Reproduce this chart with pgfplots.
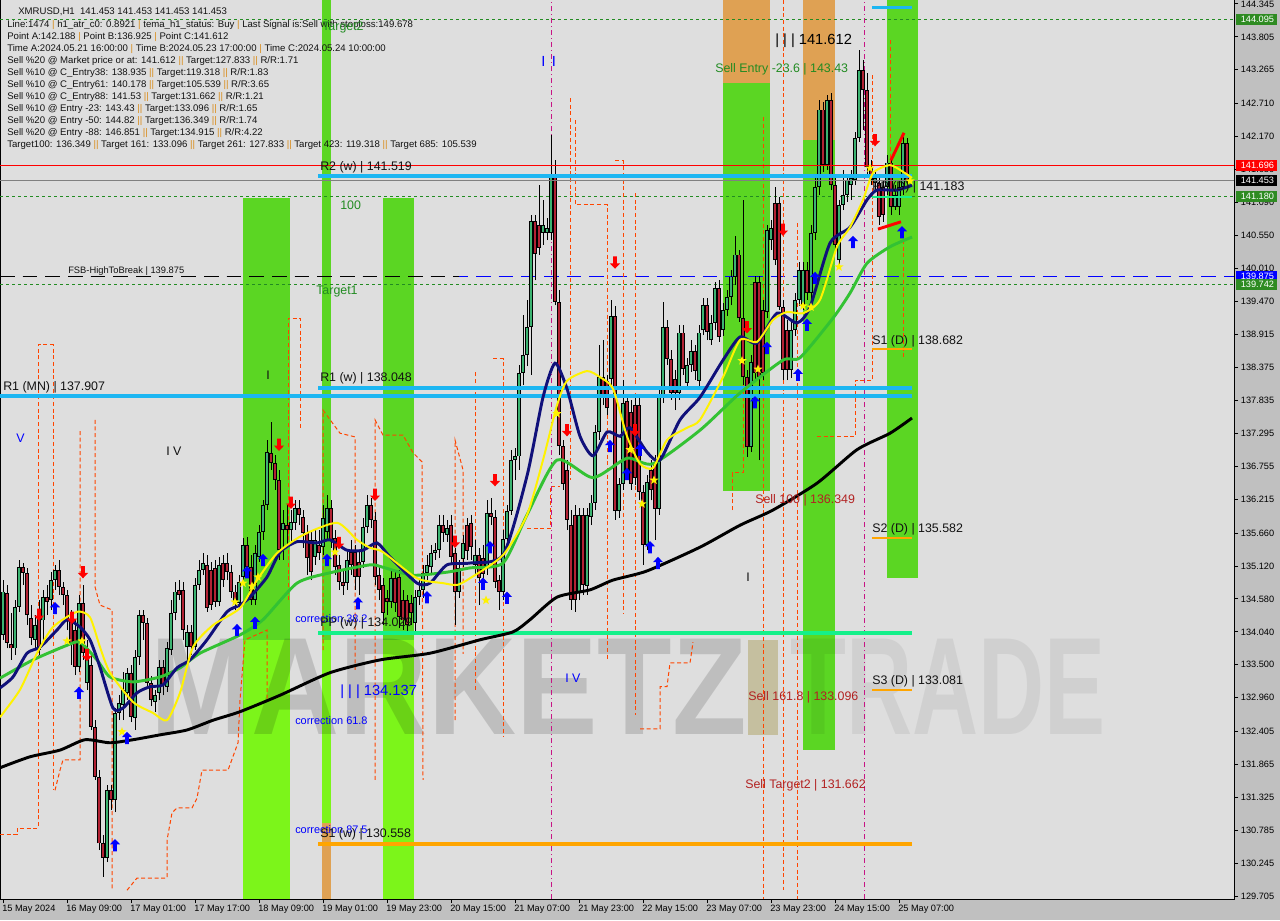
\documentclass[border=0pt]{standalone}
\usepackage{pgfplots}
\pgfplotsset{compat=1.18}
\usepackage{pgfplotstable}
\usepackage{fontspec}
\setmainfont{Liberation Sans}

\definecolor{plotbg}{HTML}{DEDEDE}
\definecolor{marginbg}{HTML}{C0C0C0}
\definecolor{bandg}{HTML}{5BD623}
\definecolor{bandl}{HTML}{7CF51A}
\definecolor{bando}{HTML}{DFA153}
\definecolor{bull}{HTML}{3CB371}
\definecolor{bear}{HTML}{B22234}
\definecolor{skyl}{HTML}{1CB6F2}
\definecolor{sprg}{HTML}{14F08A}
\definecolor{orl}{HTML}{FFA500}
\definecolor{ordash}{HTML}{FF4500}
\definecolor{magl}{HTML}{C71585}
\definecolor{maG}{HTML}{33C233}
\definecolor{maN}{HTML}{10107A}
\definecolor{txtg}{HTML}{228B22}
\definecolor{txtr}{HTML}{B22222}
\definecolor{boxg}{HTML}{2E8B22}
\definecolor{sepc}{HTML}{D98C1A}
\definecolor{infot}{HTML}{121212}
\definecolor{tanI}{HTML}{C5BF9F}

\newcommand\tk{\fontsize{6.9}{8}\selectfont}
\newcommand\lb{\fontsize{9.3}{11}\selectfont}
\newcommand\ssep{\textcolor{sepc}{||}}
\newcommand\sep{\textcolor{sepc}{|}}

\pgfdeclareplotmark{uarr}{%
 \pgfpathmoveto{\pgfqpoint{0pt}{4.6pt}}%
 \pgfpathlineto{\pgfqpoint{3.8pt}{0.6pt}}%
 \pgfpathlineto{\pgfqpoint{1.4pt}{0.6pt}}%
 \pgfpathlineto{\pgfqpoint{1.4pt}{-4.6pt}}%
 \pgfpathlineto{\pgfqpoint{-1.4pt}{-4.6pt}}%
 \pgfpathlineto{\pgfqpoint{-1.4pt}{0.6pt}}%
 \pgfpathlineto{\pgfqpoint{-3.8pt}{0.6pt}}%
 \pgfpathclose\pgfusepathqfill}
\pgfdeclareplotmark{darr}{%
 \pgfpathmoveto{\pgfqpoint{0pt}{-4.6pt}}%
 \pgfpathlineto{\pgfqpoint{3.8pt}{-0.6pt}}%
 \pgfpathlineto{\pgfqpoint{1.4pt}{-0.6pt}}%
 \pgfpathlineto{\pgfqpoint{1.4pt}{4.6pt}}%
 \pgfpathlineto{\pgfqpoint{-1.4pt}{4.6pt}}%
 \pgfpathlineto{\pgfqpoint{-1.4pt}{-0.6pt}}%
 \pgfpathlineto{\pgfqpoint{-3.8pt}{-0.6pt}}%
 \pgfpathclose\pgfusepathqfill}
\pgfdeclareplotmark{fstar}{%
 \pgfpathmoveto{\pgfpointpolar{90}{3.6pt}}%
 \pgfpathlineto{\pgfpointpolar{126}{1.5pt}}%
 \pgfpathlineto{\pgfpointpolar{162}{3.6pt}}%
 \pgfpathlineto{\pgfpointpolar{198}{1.5pt}}%
 \pgfpathlineto{\pgfpointpolar{234}{3.6pt}}%
 \pgfpathlineto{\pgfpointpolar{270}{1.5pt}}%
 \pgfpathlineto{\pgfpointpolar{306}{3.6pt}}%
 \pgfpathlineto{\pgfpointpolar{342}{1.5pt}}%
 \pgfpathlineto{\pgfpointpolar{18}{3.6pt}}%
 \pgfpathlineto{\pgfpointpolar{54}{1.5pt}}%
 \pgfpathclose\pgfusepathqfill}

% hourly candles, x = bar number
\pgfplotstableread{
x o h l c
0 133.99 134.89 133.91 134.70
1 134.68 134.81 133.77 133.86
2 133.84 134.35 133.58 133.77
3 133.77 134.56 133.66 134.45
4 134.45 135.22 134.37 135.10
5 135.10 135.17 134.81 135.01
6 135.01 135.09 134.15 134.32
7 134.27 134.48 133.82 133.94
8 133.91 134.32 133.74 134.15
9 134.40 134.56 133.66 133.74
10 134.23 134.73 133.91 134.61
11 134.61 134.81 134.32 134.53
12 134.56 135.02 134.40 134.89
13 134.89 135.14 134.73 135.06
14 135.06 135.22 134.65 134.78
15 134.78 134.86 134.48 134.65
16 134.65 134.73 134.07 134.23
17 134.23 134.40 133.50 133.86
18 134.07 134.23 133.33 133.46
19 133.46 134.65 133.38 134.51
20 134.51 134.81 133.58 133.69
21 133.20 133.91 133.09 133.69
22 133.50 133.66 132.43 132.48
23 132.48 132.59 131.61 131.66
24 131.66 131.77 130.46 130.57
25 130.57 130.71 130.02 130.33
26 130.33 131.53 130.26 131.44
27 131.44 131.53 131.12 131.28
28 131.28 132.79 131.08 132.71
29 132.71 133.00 132.59 132.87
30 132.84 133.38 132.59 133.09
31 133.04 133.45 132.92 133.36
32 133.36 133.50 132.56 132.64
33 132.63 133.74 132.43 133.63
34 133.63 134.40 133.50 134.32
35 134.32 134.40 133.91 134.19
36 134.19 134.27 133.12 133.20
37 133.20 133.32 132.82 132.92
38 132.89 133.09 132.73 133.00
39 133.04 133.58 132.92 133.46
40 133.46 133.58 133.00 133.17
41 133.14 133.87 133.06 133.77
42 133.74 134.56 133.66 134.35
43 134.35 134.86 134.23 134.70
44 134.73 134.89 134.56 134.65
45 134.73 134.86 133.91 134.07
46 133.79 134.15 133.58 134.04
47 134.04 134.15 133.66 133.79
48 133.79 134.92 133.74 134.81
49 134.81 135.22 134.73 135.06
50 135.06 135.33 134.97 135.17
51 135.14 135.30 134.37 134.43
52 135.06 135.19 134.40 134.48
53 135.09 135.22 134.45 134.53
54 134.53 135.27 134.46 135.14
55 135.17 135.30 134.78 134.89
56 135.17 135.33 134.89 135.02
57 135.02 135.14 134.60 134.70
58 134.70 134.81 134.40 134.51
59 134.51 134.97 134.43 134.86
60 134.94 135.58 134.84 135.47
61 135.47 135.60 135.02 135.10
62 135.10 135.30 134.48 134.56
63 134.56 135.47 134.48 135.33
64 135.27 135.79 135.19 135.68
65 135.68 136.20 135.55 136.12
66 136.12 137.19 136.04 136.99
67 136.97 137.49 136.70 136.81
68 136.81 136.94 136.37 136.53
69 136.53 136.70 135.22 135.38
70 135.71 136.04 135.22 135.83
71 135.79 136.12 135.47 135.71
72 135.71 136.04 135.47 135.84
73 135.83 136.20 135.71 136.07
74 136.07 136.20 135.79 135.96
75 135.93 136.04 135.42 135.66
76 135.66 135.79 134.97 135.25
77 135.55 135.71 134.89 135.02
78 135.27 135.71 135.14 135.55
79 135.47 135.71 135.22 135.33
80 135.43 136.12 135.30 135.91
81 135.68 136.29 135.55 136.07
82 136.07 136.20 135.42 135.55
83 135.58 135.71 134.97 135.10
84 135.14 135.30 134.73 134.86
85 134.86 135.06 134.65 134.79
86 134.84 135.38 134.73 135.22
87 135.35 135.55 134.97 135.14
88 135.35 135.47 134.73 134.94
89 135.19 135.38 134.65 134.94
90 135.19 135.91 135.09 135.76
91 135.76 136.29 135.66 136.12
92 136.12 136.24 135.74 135.88
93 135.88 136.01 134.81 134.94
94 134.97 135.14 134.56 134.73
95 134.81 134.92 134.15 134.35
96 134.60 134.73 134.32 134.53
97 134.53 135.06 134.43 134.92
98 134.92 135.02 134.37 134.51
99 134.94 135.06 134.10 134.28
100 134.56 134.73 134.07 134.23
101 134.56 134.65 133.99 134.15
102 134.51 134.65 134.15 134.35
103 134.19 134.73 133.99 134.61
104 134.61 134.89 134.48 134.73
105 134.73 135.14 134.60 135.01
106 135.01 135.30 134.89 135.14
107 135.10 135.47 134.97 135.33
108 135.33 135.50 135.22 135.38
109 135.38 135.96 135.25 135.79
110 135.79 135.96 135.52 135.66
111 135.63 135.88 135.52 135.74
112 135.79 135.96 135.17 135.27
113 135.33 135.42 134.15 134.70
114 134.70 135.22 134.60 135.09
115 135.24 135.63 135.10 135.50
116 135.79 135.91 135.22 135.37
117 135.83 135.96 135.22 135.43
118 135.14 135.55 134.97 135.30
119 135.30 135.42 134.48 134.92
120 135.25 135.47 134.81 134.99
121 135.10 136.20 134.97 135.99
122 135.99 136.24 135.79 135.93
123 135.93 136.04 134.76 134.86
124 134.89 134.97 134.40 134.70
125 134.70 135.71 134.56 135.56
126 135.56 136.12 135.47 136.02
127 136.02 137.03 135.96 136.86
128 136.86 137.06 136.53 136.92
129 136.92 138.42 136.70 138.29
130 138.29 139.24 138.09 138.58
131 138.58 139.49 138.40 139.04
132 139.04 140.88 138.26 140.78
133 140.78 140.88 139.81 140.24
134 140.72 141.37 140.23 140.34
135 140.59 141.13 140.39 140.72
136 140.59 140.83 140.47 140.67
137 140.59 142.19 140.47 141.51
138 141.51 141.78 139.40 139.45
139 139.45 139.65 136.94 137.09
140 137.09 137.19 136.37 136.47
141 136.70 136.86 135.71 135.88
142 135.79 136.04 134.40 134.56
143 135.96 136.12 134.37 134.56
144 134.70 136.07 134.56 135.96
145 135.96 136.07 134.65 134.81
146 134.79 136.07 134.65 135.96
147 135.93 136.29 135.79 136.16
148 136.16 137.44 136.04 137.32
149 137.32 138.75 137.19 138.22
150 138.22 138.83 137.76 137.89
151 138.16 138.26 137.60 137.71
152 138.19 139.49 138.09 139.22
153 139.22 139.39 135.88 136.02
154 136.02 136.57 135.91 136.47
155 136.47 138.17 136.37 137.80
156 137.83 137.93 136.57 136.66
157 137.65 137.85 136.37 136.47
158 137.76 137.93 136.45 136.57
159 137.76 137.93 136.20 136.34
160 136.34 136.45 135.14 135.47
161 135.47 136.61 135.38 136.50
162 136.70 136.86 136.20 136.37
163 136.80 136.94 135.55 136.06
164 136.06 138.01 135.96 137.89
165 137.89 139.45 137.80 139.04
166 139.04 139.16 138.42 138.52
167 138.52 138.67 137.85 137.96
168 138.19 138.34 137.68 137.96
169 137.96 139.08 137.85 138.95
170 138.95 139.08 138.26 138.35
171 138.13 138.54 138.01 138.42
172 138.42 138.83 138.31 138.65
173 138.65 138.75 138.17 138.32
174 138.16 139.08 138.04 138.95
175 138.99 139.52 138.91 139.40
176 139.40 139.52 138.83 138.96
177 138.83 139.24 138.75 139.11
178 139.11 139.78 138.99 139.68
179 139.68 139.81 138.80 138.88
180 138.99 139.44 138.90 139.32
181 139.32 139.65 139.22 139.54
182 139.54 139.98 139.40 139.87
183 139.87 140.54 139.73 140.23
184 140.23 140.31 139.13 139.19
185 139.19 141.13 138.09 138.22
186 138.22 138.34 136.91 137.07
187 137.07 138.58 136.99 138.47
188 139.78 139.88 138.17 138.29
189 139.78 139.88 136.86 138.22
190 139.32 139.49 138.17 138.29
191 139.29 140.72 139.19 140.63
192 140.47 140.80 140.31 140.67
193 141.08 141.34 140.06 140.14
194 141.08 141.18 139.32 139.37
195 139.37 139.49 138.17 138.34
196 138.99 139.16 138.17 138.34
197 138.34 139.13 138.21 138.99
198 138.99 139.60 138.90 139.49
199 139.49 140.11 139.39 139.98
200 139.40 140.11 139.32 139.98
201 139.98 140.11 139.49 139.60
202 139.60 140.72 139.49 140.59
203 140.59 141.49 140.47 141.34
204 141.34 142.77 141.21 142.61
205 142.61 142.74 141.59 141.70
206 141.70 142.85 141.62 142.77
207 142.77 142.88 141.29 141.37
208 141.37 141.49 140.31 140.39
209 140.14 141.13 140.06 141.05
210 141.05 141.62 140.96 141.21
211 141.21 141.54 141.10 141.46
212 141.37 141.62 141.13 141.49
213 141.46 142.24 141.37 142.15
214 142.15 143.59 142.08 143.26
215 143.26 143.43 142.28 142.93
216 142.93 143.21 141.54 141.67
217 141.67 141.78 141.37 141.46
218 141.41 141.62 141.29 141.49
219 141.41 141.49 140.72 140.85
220 141.34 141.46 140.77 140.88
221 141.34 141.87 141.21 141.74
222 141.74 141.82 140.88 141.01
223 141.01 141.37 140.96 141.21
224 141.01 141.46 140.88 141.34
225 141.34 142.19 141.21 142.06
226 142.06 142.15 141.37 141.453
}\candles

\pgfplotstableread{
x y
13 134.43
19 133.04
28 130.54
31 132.30
58.5 134.07
61 135.02
63 134.19
65 135.22
81 135.22
88.75 134.51
106 134.61
120 134.83
121.75 135.43
126 134.60
151.75 137.09
156 136.63
159.25 137.03
161.75 135.43
163.75 135.17
188 137.81
191 138.70
198.75 138.26
201 139.08
203 139.85
212.5 140.44
224.75 140.60
}\uparr

\pgfplotstableread{
x y
9 134.32
17.25 134.27
20 135.02
21 133.66
69 137.11
72 136.16
84 135.50
93 136.29
113 135.52
123 136.53
141 137.35
153 140.10
158 137.35
186 139.04
195 140.64
218 142.11
}\dnarr

\pgfplotstableread{
x y
16 133.89
19.75 133.89
29.75 132.40
58 134.53
60 134.84
62.25 134.79
63.75 134.94
83 135.35
120.75 134.56
138.5 137.62
156.75 137.03
159.75 136.14
162.75 136.53
184.75 138.49
188.75 138.35
200 139.39
202 139.37
209 140.03
216.75 141.65
226.75 141.44
}\stars

\begin{document}
\begin{tikzpicture}
\fill[marginbg] (0,0) rectangle (960pt,-690pt);
\begin{axis}[
    at={(0,0)}, anchor=north west,
    scale only axis, width=925.5pt, height=674.25pt,
    xmin=-0.75, xmax=307.75, ymin=129.656, ymax=144.41,
    axis background/.style={fill=plotbg},
    axis line style={black, line width=0.75pt},
    xtick pos=left, ytick pos=right, yticklabel pos=right,
    tick align=outside, major tick length=3pt,
    tick style={black, line width=0.75pt},
    ytick={144.345,143.805,143.265,142.710,142.170,141.630,141.090,140.550,140.010,139.470,138.915,138.375,137.835,137.295,136.755,136.215,135.660,135.120,134.580,134.040,133.500,132.960,132.405,131.865,131.325,130.785,130.245,129.705},
    yticklabels={144.345,143.805,143.265,142.710,142.170,141.630,141.090,140.550,140.010,139.470,138.915,138.375,137.835,137.295,136.755,136.215,135.660,135.120,134.580,134.040,133.500,132.960,132.405,131.865,131.325,130.785,130.245,129.705},
    xtick={0,16,...,224},
    xticklabels={15 May 2024,16 May 09:00,17 May 01:00,17 May 17:00,18 May 09:00,19 May 01:00,19 May 23:00,20 May 15:00,21 May 07:00,21 May 23:00,22 May 15:00,23 May 07:00,23 May 23:00,24 May 15:00,25 May 07:00},
    yticklabel style={font=\tk, anchor=west, inner sep=0pt, xshift=2pt},
    xticklabel style={font=\tk, anchor=north west, inner sep=0pt, xshift=-0.75pt, yshift=-1pt},
    clip mode=individual,
]
% signal zones
\fill[bandg] (axis cs:60,141.16) rectangle (axis cs:71.75,133.91);
\fill[bandl] (axis cs:60,133.91) rectangle (axis cs:71.75,129.656);
\fill[bandg] (axis cs:79.75,144.41) rectangle (axis cs:82,133.91);
\fill[bandl] (axis cs:79.75,133.91) rectangle (axis cs:82,130.90);
\fill[bando] (axis cs:79.75,130.90) rectangle (axis cs:82,129.656);
\fill[bandg] (axis cs:95,141.16) rectangle (axis cs:102.75,133.91);
\fill[bandl] (axis cs:95,133.91) rectangle (axis cs:102.75,129.656);
\fill[bando] (axis cs:180,144.41) rectangle (axis cs:191.75,143.05);
\fill[bandg] (axis cs:180,143.05) rectangle (axis cs:191.75,136.35);
\fill[bando] (axis cs:200,144.41) rectangle (axis cs:208,142.11);
\fill[bandg] (axis cs:200,142.11) rectangle (axis cs:208,132.10);
\fill[bandg] (axis cs:221,144.41) rectangle (axis cs:228.75,134.92);
% watermark
\fill[tanI] (axis cs:186.25,133.91) rectangle (axis cs:193.75,132.35);
\node[anchor=base west, inner sep=0pt, font=\fontsize{104}{104}\selectfont\bfseries, text=black, text opacity=0.14, xscale=0.88] at (axis cs:36.75,132.35) {MARKETZ};
\node[anchor=base west, inner sep=0pt, font=\fontsize{104}{104}\selectfont\bfseries, text=black, text opacity=0.06, xscale=0.66] at (axis cs:196.75,132.35) {TRADE};
% horizontal levels (thin)
\addplot[txtg, line width=0.75pt, dash pattern=on 2.25pt off 2.25pt] coordinates {(-0.75,144.095) (307.75,144.095)};
\addplot[txtg, line width=0.75pt, dash pattern=on 2.25pt off 2.25pt] coordinates {(-0.75,141.180) (307.75,141.180)};
\addplot[txtg, line width=0.75pt, dash pattern=on 2.25pt off 2.25pt] coordinates {(-0.75,139.742) (307.75,139.742)};
\addplot[blue, line width=0.75pt, dash pattern=on 11pt off 6pt] coordinates {(-0.75,139.875) (307.75,139.875)};
\addplot[black, line width=0.75pt, dash pattern=on 11pt off 6pt] coordinates {(-0.75,139.875) (114,139.875)};
% stop-level steps
\pgfplotsset{every axis plot/.append style={}}
\addplot[ordash, line width=0.75pt, dash pattern=on 3pt off 2pt] coordinates {(-0.75,130.71)(3.5,130.71)(3.5,130.82)(8.75,130.82)(8.75,138.75)(12.5,138.75)(12.5,131.44)};
\addplot[ordash, line width=0.75pt, dash pattern=on 3pt off 2pt] coordinates {(13,131.44)(14.25,131.77)(15,131.94)(19.25,131.94)(19.25,137.35)};
\addplot[ordash, line width=0.75pt, dash pattern=on 3pt off 2pt] coordinates {(23,137.52)(23,134.78)(24.25,134.48)(27.25,134.40)(27.25,129.80)};
\addplot[ordash, line width=0.75pt, dash pattern=on 3pt off 2pt] coordinates {(31,129.80)(33.5,130.0)(41,130.0)(41,130.62)(42.25,131.07)(43.5,131.15)(47.25,131.15)(48.5,131.31)(49.75,131.77)(56.25,131.77)(56.75,131.86)(58.75,132.22)(59.25,132.92)(60.5,133.91)(66,134.07)(66,132.92)};
\addplot[ordash, line width=0.75pt, dash pattern=on 3pt off 2pt] coordinates {(71.25,134.56)(71.25,139.19)(74.25,139.19)(74.25,137.35)};
\addplot[ordash, line width=0.75pt, dash pattern=on 3pt off 2pt] coordinates {(80,133.74)(80,137.68)(84.25,137.30)(88,137.24)(88,133.41)};
\addplot[ordash, line width=0.75pt, dash pattern=on 3pt off 2pt] coordinates {(93,131.61)(93,137.52)(95,137.27)(100,137.27)(102.5,136.98)(104.75,136.83)(105,131.61)};
\addplot[ordash, line width=0.75pt, dash pattern=on 3pt off 2pt] coordinates {(113,132.59)(113,137.19)(115,136.70)(115,133.68)};
\addplot[ordash, line width=0.75pt, dash pattern=on 3pt off 2pt] coordinates {(118,133.09)(118,138.32)};
\addplot[ordash, line width=0.75pt, dash pattern=on 3pt off 2pt] coordinates {(122.5,138.52)(125,138.52)(125,132.31)};
\addplot[ordash, line width=0.75pt, dash pattern=on 3pt off 2pt] coordinates {(131,135.73)(136.75,135.73)(136.75,136.43)(139.25,136.43)};
\addplot[ordash, line width=0.75pt, dash pattern=on 3pt off 2pt] coordinates {(141.75,142.80)(141.75,136.53)};
\addplot[ordash, line width=0.75pt, dash pattern=on 3pt off 2pt] coordinates {(143,142.44)(143,141.05)(151,141.05)(151,133.58)};
\addplot[ordash, line width=0.75pt, dash pattern=on 3pt off 2pt] coordinates {(153,141.77)(155,141.77)(155,134.33)};
\addplot[ordash, line width=0.75pt, dash pattern=on 3pt off 2pt] coordinates {(158,141.24)(158,132.68)};
\addplot[ordash, line width=0.75pt, dash pattern=on 3pt off 2pt] coordinates {(159.25,132.45)(164.25,132.45)(164.25,133.14)(166,133.14)(166.75,133.53)(171.75,133.53)(172.5,133.87)};
\addplot[ordash, line width=0.75pt, dash pattern=on 3pt off 2pt] coordinates {(182.25,136.04)(182.25,136.65)(185,136.65)(185,141.13)};
\addplot[ordash, line width=0.75pt, dash pattern=on 3pt off 2pt] coordinates {(190,142.49)(190,129.66)};
\addplot[ordash, line width=0.75pt, dash pattern=on 3pt off 2pt] coordinates {(195,144.41)(195,129.80)};
\addplot[ordash, line width=0.75pt, dash pattern=on 3pt off 2pt] coordinates {(198.5,140.75)(198.5,129.66)};
\addplot[ordash, line width=0.75pt, dash pattern=on 3pt off 2pt] coordinates {(203.5,137.24)(213,137.24)(213,138.17)(217.25,138.17)(217.25,143.21)};
\addplot[ordash, line width=0.75pt, dash pattern=on 3pt off 2pt] coordinates {(221.75,143.75)(221.75,141.08)};
\addplot[ordash, line width=0.75pt, dash pattern=on 3pt off 2pt] coordinates {(225,140.47)(225,138.55)};
% time separators
\addplot[magl, line width=0.75pt, dash pattern=on 4pt off 2pt on 1pt off 2pt] coordinates {(137,129.656) (137,144.41)};
\addplot[magl, line width=0.75pt, dash pattern=on 4pt off 2pt on 1pt off 2pt] coordinates {(215.25,129.656) (215.25,144.41)};
% candles: wicks, bodies
\addplot[draw=none, mark=none, error bars/.cd, y dir=plus, y explicit, error mark=none,
    error bar style={draw=black, line width=0.75pt}]
    table[x=x, y=l, y error expr=\thisrow{h}-\thisrow{l}] {\candles};
\addplot[draw=none, mark=none, restrict expr to domain={\thisrow{c}-\thisrow{o}}{0:100},
    error bars/.cd, y dir=plus, y explicit, error mark=none,
    error bar style={draw=black, line width=2.4pt, line cap=butt}]
    table[x=x, y=o, y error expr={max(\thisrow{c}-\thisrow{o},0.02)}] {\candles};
\addplot[draw=none, mark=none, restrict expr to domain={\thisrow{c}-\thisrow{o}}{0:100},
    error bars/.cd, y dir=plus, y explicit, error mark=none,
    error bar style={draw=bull, line width=0.9pt, line cap=butt}]
    table[x=x, y expr=\thisrow{o}+0.013, y error expr={max(\thisrow{c}-\thisrow{o}-0.026,0)}] {\candles};
\addplot[draw=none, mark=none, restrict expr to domain={\thisrow{o}-\thisrow{c}}{0.0001:100},
    error bars/.cd, y dir=plus, y explicit, error mark=none,
    error bar style={draw=black, line width=2.4pt, line cap=butt}]
    table[x=x, y=c, y error expr={max(\thisrow{o}-\thisrow{c},0.02)}] {\candles};
\addplot[draw=none, mark=none, restrict expr to domain={\thisrow{o}-\thisrow{c}}{0.0001:100},
    error bars/.cd, y dir=plus, y explicit, error mark=none,
    error bar style={draw=bear, line width=0.9pt, line cap=butt}]
    table[x=x, y expr=\thisrow{c}+0.013, y error expr={max(\thisrow{o}-\thisrow{c}-0.026,0)}] {\candles};
% pivot levels
\addplot[skyl, line width=3pt] coordinates {(78.75,141.519) (227.25,141.519)};
\addplot[skyl, line width=3pt] coordinates {(78.75,138.048) (227.25,138.048)};
\addplot[skyl, line width=3pt] coordinates {(-0.75,137.907) (227.25,137.907)};
\addplot[skyl, line width=2.2pt] coordinates {(217.25,144.28) (227.25,144.28)};
\addplot[sprg, line width=3pt] coordinates {(78.75,134.029) (227.25,134.029)};
\addplot[orl, line width=3pt] coordinates {(78.75,130.558) (227.25,130.558)};
\addplot[sprg, line width=1.5pt] coordinates {(217.25,141.183) (227.25,141.183)};
\addplot[orl, line width=1.5pt] coordinates {(217.25,138.682) (227.25,138.682)};
\addplot[orl, line width=1.5pt] coordinates {(217.25,135.582) (227.25,135.582)};
\addplot[orl, line width=1.5pt] coordinates {(217.25,133.081) (227.25,133.081)};
\addplot[red, line width=0.75pt] coordinates {(-0.75,141.696) (307.75,141.696)};
\addplot[gray, line width=0.75pt] coordinates {(-0.75,141.453) (307.75,141.453)};
\addplot[red, line width=2.2pt] coordinates {(222,141.78) (225.25,142.23)};
\addplot[red, line width=2.2pt] coordinates {(218.75,140.65) (224.5,140.77)};
% moving averages
\addplot[black, line width=2.2pt, smooth, tension=0.4] coordinates {(-0.75,131.81)(6.75,131.99)(14.25,132.10)(20.5,132.27)(26.75,132.22)(32.5,132.27)(39.25,132.35)(46,132.43)(52.5,132.59)(59.25,132.73)(69.25,133.00)(81.75,133.37)(94.25,133.58)(106.75,133.69)(119.25,133.91)(127.5,134.04)(131.75,134.24)(138.5,134.61)(146.75,134.73)(152.5,134.89)(161,135.04)(174.25,135.43)(184.25,135.79)(192.5,136.04)(203.5,136.48)(213.5,137.03)(221.75,137.30)(227.25,137.55)};
\addplot[maG, line width=2.2pt, smooth, tension=0.4] coordinates {(-0.75,133.28)(7.5,133.58)(16,133.82)(19.25,133.87)(23.5,133.58)(26.75,133.30)(32.5,133.22)(39.25,133.30)(44.25,133.45)(49.25,133.69)(59.25,133.99)(65,134.24)(73.5,134.84)(81.75,135.01)(91.75,135.14)(95,135.10)(102.5,134.97)(111,135.02)(116.75,135.09)(125,135.17)(131,135.96)(138.5,136.86)(147.5,136.57)(156,136.89)(162.5,136.80)(174.25,137.35)(184.25,137.96)(195,138.50)(199.25,138.54)(207.5,139.19)(211.75,139.60)(216,140.09)(221.75,140.36)(227.25,140.52)};
\addplot[maN, line width=2.2pt, smooth, tension=0.4] coordinates {(-0.75,133.12)(2.5,133.30)(6,133.69)(9.25,133.79)(13.5,134.07)(16,134.24)(19.25,134.12)(21.75,133.91)(24.25,133.46)(27.5,132.79)(30,132.79)(33.5,133.04)(36.75,133.14)(40,133.17)(43.5,133.45)(46.75,133.58)(51,133.91)(56,134.37)(59.25,134.48)(61.75,134.61)(66,134.94)(69.25,135.35)(73.5,135.52)(78.5,135.50)(81.75,135.55)(86,135.38)(90,135.38)(93.5,135.50)(96.75,135.27)(103.5,134.84)(106.75,134.84)(111,135.14)(116.75,135.17)(125,135.30)(131,136.60)(135,137.89)(138,138.45)(141,138.03)(144.25,137.25)(147.5,136.93)(151,137.32)(154.25,137.25)(156.75,137.39)(161,136.99)(164.25,136.86)(169.25,137.52)(174.25,137.89)(180,138.50)(184.25,138.88)(188.5,138.78)(193.5,139.27)(198.5,139.11)(201.75,139.37)(206.75,140.42)(211.75,140.68)(216,141.13)(218.5,141.29)(223.5,141.29)(227.25,141.37)};
\addplot[yellow, line width=1.5pt, smooth, tension=0.4] coordinates {(-0.75,132.64)(4.25,133.09)(8.5,133.69)(12.5,134.12)(18.5,134.37)(21.75,134.28)(24.25,133.79)(26.75,133.37)(32.5,132.89)(37.5,132.71)(41,132.59)(44.25,133.04)(47.5,133.79)(52.5,134.15)(59.25,134.43)(63.5,134.89)(68.5,135.33)(75,135.63)(83.5,135.83)(88.5,135.55)(91.75,135.42)(95,135.35)(103.5,134.92)(110,134.84)(113.5,134.81)(116.75,134.92)(125,135.30)(131,135.96)(135,136.86)(138.5,137.76)(141,138.16)(146,138.32)(149.25,138.22)(152.5,138.03)(156,137.25)(159.25,136.80)(162.5,136.73)(166,137.19)(171,137.39)(174.25,137.52)(180,138.22)(184.25,138.83)(188.5,138.80)(192.5,139.16)(196,139.29)(200,139.27)(204.25,139.49)(208.5,140.36)(211.75,140.68)(215,141.13)(217.5,141.57)(221.75,141.70)(225,141.59)(227.25,141.49)};
% signals
\addplot[only marks, mark=fstar, color=yellow, mark options={fill=yellow}] table[x=x, y=y] {\stars};
\addplot[only marks, mark=uarr, color=blue, mark options={fill=blue}] table[x=x, y=y] {\uparr};
\addplot[only marks, mark=darr, color=red, mark options={fill=red}] table[x=x, y=y] {\dnarr};
\end{axis}

\begin{scope}[x=0.75pt, y=-0.75pt]
% info block
\begin{scope}[every node/.style={anchor=base west, inner sep=0pt, font=\fontsize{7.2}{9}\selectfont, text=infot}]
\node at (18,14.2) {XMRUSD,H1\ \ 141.453 141.453 141.453 141.453};
\node at (7,27.2) {Line:1474 \sep{} h1\_atr\_c0: 0.8921 \sep{} tema\_h1\_status: Buy \sep{} Last Signal is:Sell with stoploss:149.678};
\node at (7,39.2) {Point A:142.188 \sep{} Point B:136.925 \sep{} Point C:141.612};
\node at (7,51.3) {Time A:2024.05.21 16:00:00 \sep{} Time B:2024.05.23 17:00:00 \sep{} Time C:2024.05.24 10:00:00};
\node at (7,63.3) {Sell \%20 @ Market price or at: 141.612 \ssep{} Target:127.833 \ssep{} R/R:1.71};
\node at (7,75.3) {Sell \%10 @ C\_Entry38: 138.935 \ssep{} Target:119.318 \ssep{} R/R:1.83};
\node at (7,87.4) {Sell \%10 @ C\_Entry61: 140.178 \ssep{} Target:105.539 \ssep{} R/R:3.65};
\node at (7,99.4) {Sell \%10 @ C\_Entry88: 141.53 \ssep{} Target:131.662 \ssep{} R/R:1.21};
\node at (7,111.4) {Sell \%10 @ Entry -23: 143.43 \ssep{} Target:133.096 \ssep{} R/R:1.65};
\node at (7,123.5) {Sell \%20 @ Entry -50: 144.82 \ssep{} Target:136.349 \ssep{} R/R:1.74};
\node at (7,135.5) {Sell \%20 @ Entry -88: 146.851 \ssep{} Target:134.915 \ssep{} R/R:4.22};
\node at (7,147.5) {Target100: 136.349 \ssep{} Target 161: 133.096 \ssep{} Target 261: 127.833 \ssep{} Target 423: 119.318 \ssep{} Target 685: 105.539};
\end{scope}
% chart labels
\begin{scope}[every node/.style={anchor=west, inner sep=0pt, font=\lb}]
\node[text=txtg] at (322,27) {Target2};
\node[text=blue, font=\fontsize{11}{12}\selectfont] at (541,61) {I\, I};
\node[text=black, font=\fontsize{11}{12}\selectfont] at (775,41) {| | | 141.612};
\node[text=txtg] at (715,69) {Sell Entry -23.6 | 143.43};
\node[text=infot] at (320,167) {R2 (w) | 141.519};
\node[text=infot] at (872,187) {PP (D) | 141.183};
\node[text=txtg] at (340,205) {100};
\node[text=infot, font=\fontsize{7.0}{8}\selectfont] at (68,271) {FSB-HighToBreak | 139.875};
\node[text=txtg] at (316,292) {Target1};
\node[text=infot] at (872,341) {S1 (D) | 138.682};
\node[text=infot] at (266,375) {I};
\node[text=infot] at (320,378) {R1 (w) | 138.048};
\node[text=infot] at (3,387) {R1 (MN) | 137.907};
\node[text=blue] at (16,438) {V};
\node[text=infot] at (166,451) {I V};
\node[text=txtr] at (755,500) {Sell 100 | 136.349};
\node[text=infot] at (872,529) {S2 (D) | 135.582};
\node[text=infot] at (746,577) {I};
\node[text=blue, font=\fontsize{8.2}{9}\selectfont] at (295,619) {correction 38.2};
\node[text=infot] at (320,623) {PP (w) | 134.029};
\node[text=blue] at (565,678) {I V};
\node[text=infot] at (872,681) {S3 (D) | 133.081};
\node[text=blue, font=\fontsize{11}{12}\selectfont] at (340,692) {| | | 134.137};
\node[text=txtr] at (748,697) {Sell 161.8 | 133.096};
\node[text=blue, font=\fontsize{8.2}{9}\selectfont] at (295,721) {correction 61.8};
\node[text=txtr] at (745,785) {Sell Target2 | 131.662};
\node[text=blue, font=\fontsize{8.2}{9}\selectfont] at (295,830) {correction 87.5};
\node[text=infot] at (320,834) {S1 (w) | 130.558};
\end{scope}
% price boxes on the scale
\fill[boxg] (1236,13.7) rectangle (1277,24.7);
\node[anchor=west, inner sep=0pt, font=\tk, text=white] at (1240.5,19.2) {144.095};
\fill[red] (1236,159.9) rectangle (1277,170.9);
\node[anchor=west, inner sep=0pt, font=\tk, text=white] at (1240.5,165.4) {141.696};
\fill[black] (1236,174.7) rectangle (1277,185.7);
\node[anchor=west, inner sep=0pt, font=\tk, text=white] at (1240.5,180.2) {141.453};
\fill[boxg] (1236,191.3) rectangle (1277,202.3);
\node[anchor=west, inner sep=0pt, font=\tk, text=white] at (1240.5,196.8) {141.180};
\fill[blue] (1236,270.8) rectangle (1277,281.8);
\node[anchor=west, inner sep=0pt, font=\tk, text=white] at (1240.5,276.3) {139.875};
\fill[boxg] (1236,278.9) rectangle (1277,289.9);
\node[anchor=west, inner sep=0pt, font=\tk, text=white] at (1240.5,284.4) {139.742};
\end{scope}
\pgfresetboundingbox
\path[use as bounding box] (0,0) rectangle (960pt,-690pt);
\end{tikzpicture}
\end{document}
